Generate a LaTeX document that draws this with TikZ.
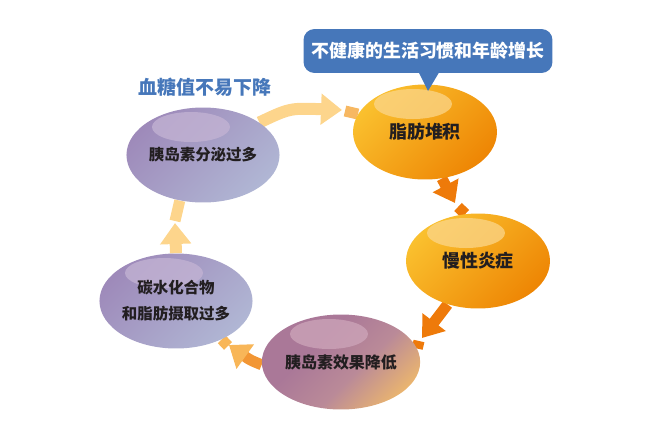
\documentclass[tikz,border=0pt]{standalone}
\usepackage{fontspec}
\newfontfamily\cjkfont{Noto Sans CJK SC}
\definecolor{CalloutBlue}{RGB}{70, 119, 186}
\definecolor{PaleBand}{RGB}{253, 213, 140}
\definecolor{PaleStub}{RGB}{247, 184, 98}
\definecolor{DeepOrange}{RGB}{238, 122, 10}
\definecolor{SoftOrange}{RGB}{242, 150, 52}
\definecolor{TipOrange}{RGB}{248, 182, 88}
\definecolor{InkDark}{RGB}{34, 30, 32}
\definecolor{AmberTop}{RGB}{250, 192, 46}
\definecolor{AmberBottom}{RGB}{238, 134, 4}
\definecolor{AmberGloss}{RGB}{251, 214, 138}
\definecolor{LilacTop}{RGB}{158, 138, 186}
\definecolor{LilacBottom}{RGB}{176, 182, 212}
\definecolor{LilacGloss}{RGB}{196, 180, 212}
\definecolor{MauveTop}{RGB}{170, 120, 152}
\definecolor{MauveMid}{RGB}{186, 138, 152}
\definecolor{MauveBottom}{RGB}{240, 186, 106}
\definecolor{MauveGloss}{RGB}{206, 166, 186}
\usetikzlibrary{arrows.meta, shapes.geometric, backgrounds}
\pgfdeclareverticalshading{mauveshade}{100bp}{color(0bp)=(MauveBottom); color(22bp)=(MauveBottom); color(43bp)=(MauveMid); color(62bp)=(MauveTop); color(100bp)=(MauveTop)}

\begin{document}
\begin{tikzpicture}[
        x=0.02cm, y=-0.02cm,
        bubble/.style={ellipse, minimum width=2.88cm, minimum height=1.9cm, inner sep=0pt, align=center, text=InkDark},
        gloss/.style={path picture={\fill[#1, opacity=0.75] ([shift={(-0.24cm,0.56cm)}]path picture bounding box.center) ellipse (0.78cm and 0.3cm);}},
        amber/.style={bubble, top color=AmberTop, bottom color=AmberBottom, shading angle=45, gloss=AmberGloss},
        lilac/.style={bubble, top color=LilacTop, bottom color=LilacBottom, shading angle=45, gloss=LilacGloss},
        mauve/.style={bubble, shade, shading=mauveshade, shading angle=45, gloss=MauveGloss},
        bigtext/.style={font=\cjkfont\bfseries\fontsize{10.2}{12}\selectfont},
        smalltext/.style={font=\cjkfont\bfseries\fontsize{8.8}{14.7}\selectfont},
        paleband/.style={draw=PaleBand, line width=0.24cm, -{Triangle[width=0.6cm, length=0.42cm, color=PaleBand]}},
        orangeband/.style={draw=DeepOrange, line width=0.22cm, -{Triangle[width=0.56cm, length=0.4cm, color=DeepOrange]}},
        stub/.style={draw=#1, line width=0.22cm}
    ]
        \useasboundingbox (0,0) rectangle (650,440);

        \node [amber, bigtext] (fat) at (425,132) {脂肪堆积};
        \node [amber, bigtext] (inflam) at (478,261) {慢性炎症};
        \node [mauve, font=\cjkfont\bfseries\fontsize{9.1}{12}\selectfont] (effect) at (341,362) {\raisebox{-0.07cm}{胰岛素效果降低}};
        \node [lilac, smalltext] (carbs) at (176,301) {碳水化合物\\和脂肪摄取过多};
        \node [lilac, smalltext] (secrete) at (203,155) {胰岛素分泌过多};

        \node [text=CalloutBlue, font=\cjkfont\bfseries\fontsize{10.8}{13}\selectfont] (sugar) at (205,87) {血糖值不易下降};
        \node [fill=CalloutBlue, rounded corners=0.22cm, minimum width=4.98cm, minimum height=0.88cm, inner sep=0pt, text=white, bigtext] (cause) at (428,51) {不健康的生活习惯和年龄增长};
        \coordinate (pointer) at (428,91);
        \fill [CalloutBlue] ([xshift=-0.2cm, yshift=0.05cm]cause.south) -- ([xshift=0.24cm, yshift=0.05cm]cause.south) -- (pointer) -- cycle;

        \coordinate (tipA) at (342,110);
        \coordinate (stubA) at (345,111);
        \coordinate (tipB) at (455,203);
        \coordinate (stubB) at (458,207);
        \coordinate (tipC) at (422,338);
        \coordinate (stubC) at (419,341);
        \coordinate (tipD) at (229,345);
        \coordinate (stubD) at (228,346);
        \coordinate (tipE) at (175,223);
        \coordinate (stubE) at (175,221);

        \begin{scope}[on background layer]
            \path [paleband] (secrete.30) .. controls (290,108) .. (tipA);
            \path [stub=PaleStub] (stubA) -- (fat.165);
            \path [orangeband] (fat.-70) -- (tipB);
            \path [stub=DeepOrange] (stubB) -- (inflam.105);
            \path [orangeband] (inflam.-125) -- (tipC);
            \path [stub=DeepOrange] (stubC) -- (effect.10);
            \path [draw=SoftOrange, line width=0.22cm, -{Triangle[width=0.58cm, length=0.4cm, color=TipOrange]}] (effect.182) .. controls (250,360) .. (tipD);
            \path [stub=TipOrange] (stubD) -- (carbs.-40);
            \path [paleband] (carbs.90) -- (tipE);
            \path [stub=PaleBand] (stubE) -- (secrete.-117);
        \end{scope}
    \end{tikzpicture}
\end{document}
